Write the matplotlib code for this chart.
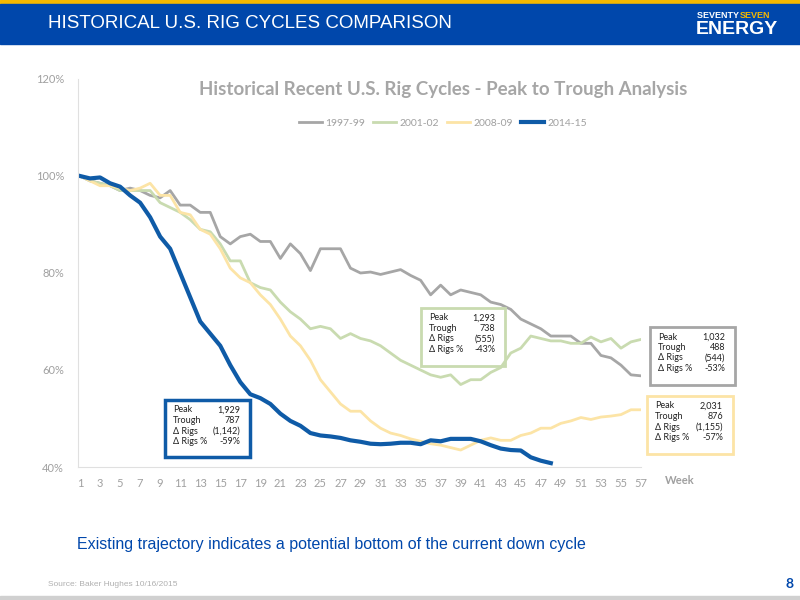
import numpy as np
import matplotlib
matplotlib.use("Agg")
import matplotlib.pyplot as plt
from matplotlib.patches import Rectangle
from matplotlib.ticker import FuncFormatter

# Rig counts as % of peak, by week
weeks = list(range(1, 58))
s1997 = [100, 99, 98.5, 98, 97, 97.5, 97, 96, 95.5, 97, 94, 94, 92.5, 92.5, 87.5, 86, 87.5, 88, 86.5, 86.5,
         83, 86, 84, 80.5, 85, 85, 85, 81, 80, 80.2, 79.7, 80.2, 80.7, 79.5, 78.5, 75.5, 77.5, 75.5, 76.5, 76,
         75.5, 74, 73.5, 72.5, 70.5, 69.5, 68.5, 67, 67, 67, 65.5, 65.5, 63, 62.5, 61, 59, 58.8]
s2001 = [100, 99, 98.5, 98, 97, 97, 97, 97, 94.5, 93.5, 92.5, 91, 89, 88.5, 86, 82.5, 82.5, 78, 77, 76.5,
         74, 72, 70.5, 68.5, 69, 68.5, 66.5, 67.5, 66.5, 66, 65, 63.5, 62, 61, 60, 59, 58.5, 59, 57, 58,
         58, 59.5, 60.5, 63.5, 64.5, 67, 66.5, 66, 66, 65.5, 65.5, 66.8, 65.8, 66.5, 64.5, 65.8, 66.3]
s2008 = [100, 99, 98, 98, 97.5, 97, 97.5, 98.5, 96, 96, 92.5, 92, 89, 88, 85, 81, 79, 78, 75.5, 73.5,
         70.5, 67, 65, 62, 58, 55.5, 53, 51.5, 51.5, 49.5, 48, 47, 46.5, 45.8, 45.3, 44.8, 44.5, 44, 43.5, 44.5,
         45.5, 46, 45.5, 45.5, 46.5, 47, 48, 48, 49, 49.5, 50.2, 49.8, 50.3, 50.5, 50.8, 51.8, 51.8]
s2014 = [100, 99.5, 99.7, 98.5, 97.8, 96, 94.5, 91.5, 87.5, 85, 80, 75, 70, 67.5, 65, 61, 57.5, 55, 54.2, 53,
         51, 49.5, 48.5, 47, 46.5, 46.3, 46, 45.5, 45.2, 44.8, 44.7, 44.8, 45, 45, 44.7, 45.5, 45.3, 45.8, 45.8, 45.8,
         45.3, 44.5, 43.8, 43.5, 43.4, 42, 41.3, 40.8]

labels = ["1997-99", "2001-02", "2008-09", "2014-15"]
colors = ["#a6a6a6", "#c9dbb0", "#fce4a6", "#0f5ba7"]
boxes = [
    ("1,929", "787", "(1,142)", "-59%"),
    ("1,293", "738", "(555)", "-43%"),
    ("1,032", "488", "(544)", "-53%"),
    ("2,031", "876", "(1,155)", "-57%"),
]

W, H = 800, 600
fig = plt.figure(figsize=(8, 6), dpi=100)
plt.rcParams['font.family'] = ['Lato', 'DejaVu Sans']

def fx(px):
    return px / W

def fy(py):
    return 1 - py / H

# header
fig.patches.append(Rectangle((0, fy(4)), 1, 4 / H, transform=fig.transFigure, color="#f5b800"))
fig.patches.append(Rectangle((0, fy(44)), 1, 40 / H, transform=fig.transFigure, color="#0047ab"))
fig.text(fx(48), fy(24), "HISTORICAL U.S. RIG CYCLES COMPARISON", color="white", fontsize=13.5,
         family="Liberation Sans", va="center")
fig.text(fx(697), fy(16), "SEVENTY ", color="white", fontsize=6.5, weight="bold", va="center", family="Liberation Sans")
fig.text(fx(740), fy(16), "SEVEN", color="#f5b800", fontsize=6.5, weight="bold", va="center", family="Liberation Sans")
fig.text(fx(696), fy(29), "ENERGY", color="white", fontsize=14, weight="bold", va="center", family="Liberation Sans")

ax = fig.add_axes([fx(78), fy(467), fx(641) - fx(78), fy(79) - fy(467)])
series = [s1997, s2001, s2008, s2014]
for s, lab, c in zip(series, labels, colors):
    lw = 3 if lab == "2014-15" else 2
    ax.plot(weeks[:len(s)], s, color=c, lw=lw, label=lab)

ax.set_xlim(0.8, 57)
ax.set_ylim(40, 120)
ax.set_yticks([40, 60, 80, 100, 120])
ax.yaxis.set_major_formatter(FuncFormatter(lambda v, p: f"{v:.0f}%"))
ax.set_xticks(range(1, 58, 2))
ax.tick_params(colors="#a0a0a0", labelsize=8, length=0)
ax.tick_params(axis="y", pad=10)
for sp in ["top", "right"]:
    ax.spines[sp].set_visible(False)
for sp in ["left", "bottom"]:
    ax.spines[sp].set_color("#e0e0e0")
ax.xaxis.set_tick_params(pad=8)
fig.text(fx(665), fy(481), "Week", color="#a0a0a0", fontsize=8, ha="left", va="center", weight="bold")

fig.text(fx(443), fy(89), "Historical Recent U.S. Rig Cycles - Peak to Trough Analysis",
         color="#a6a6a6", fontsize=13.5, weight="bold", ha="center", va="center")
fig.legend(loc="center", bbox_to_anchor=(fx(443), fy(123)), ncol=4, frameon=False,
           fontsize=7.5, labelcolor="#a0a0a0", handlelength=2.2, columnspacing=0.8, handletextpad=0.3)

# annotation boxes (x0, y0, x1, y1 in pixels)
rects = [(165, 400, 250, 457), (421, 308, 505, 366), (650, 327, 735, 385), (647, 396, 733, 454)]
bcolors = [colors[3], colors[1], colors[0], colors[2]]
for (x0, y0, x1, y1), bc, vals in zip(rects, bcolors, boxes):
    fig.patches.append(Rectangle((fx(x0), fy(y1)), fx(x1 - x0), (y1 - y0) / H, transform=fig.transFigure,
                                 fill=False, ec=bc, lw=2.5 if bc == colors[3] else 2))
    names = ["Peak", "Trough", "\u0394 Rigs", "\u0394 Rigs %"]
    for i, (n, v) in enumerate(zip(names, vals)):
        yy = fy(y0 + 10 + i * 10.5)
        fig.text(fx(x0 + 8), yy, n, fontsize=6.5, va="center", color="#222222")
        fig.text(fx(x1 - 10), yy, v, fontsize=6.5, va="center", ha="right", color="#222222")

fig.text(fx(77), fy(545), "Existing trajectory indicates a potential bottom of the current down cycle",
         color="#0047ab", fontsize=11.5, va="center", family="Liberation Sans")
fig.text(fx(48), fy(585), "Source: Baker Hughes 10/16/2015", color="#b0b0b0", fontsize=6, va="center",
         family="Liberation Sans")
fig.text(fx(793), fy(584), "8", color="#0047ab", fontsize=10, weight="bold", va="center", ha="right")
fig.patches.append(Rectangle((0, 0), 1, 4 / H, transform=fig.transFigure, color="#d0d0d0"))

fig.savefig("out.png", dpi=100)
